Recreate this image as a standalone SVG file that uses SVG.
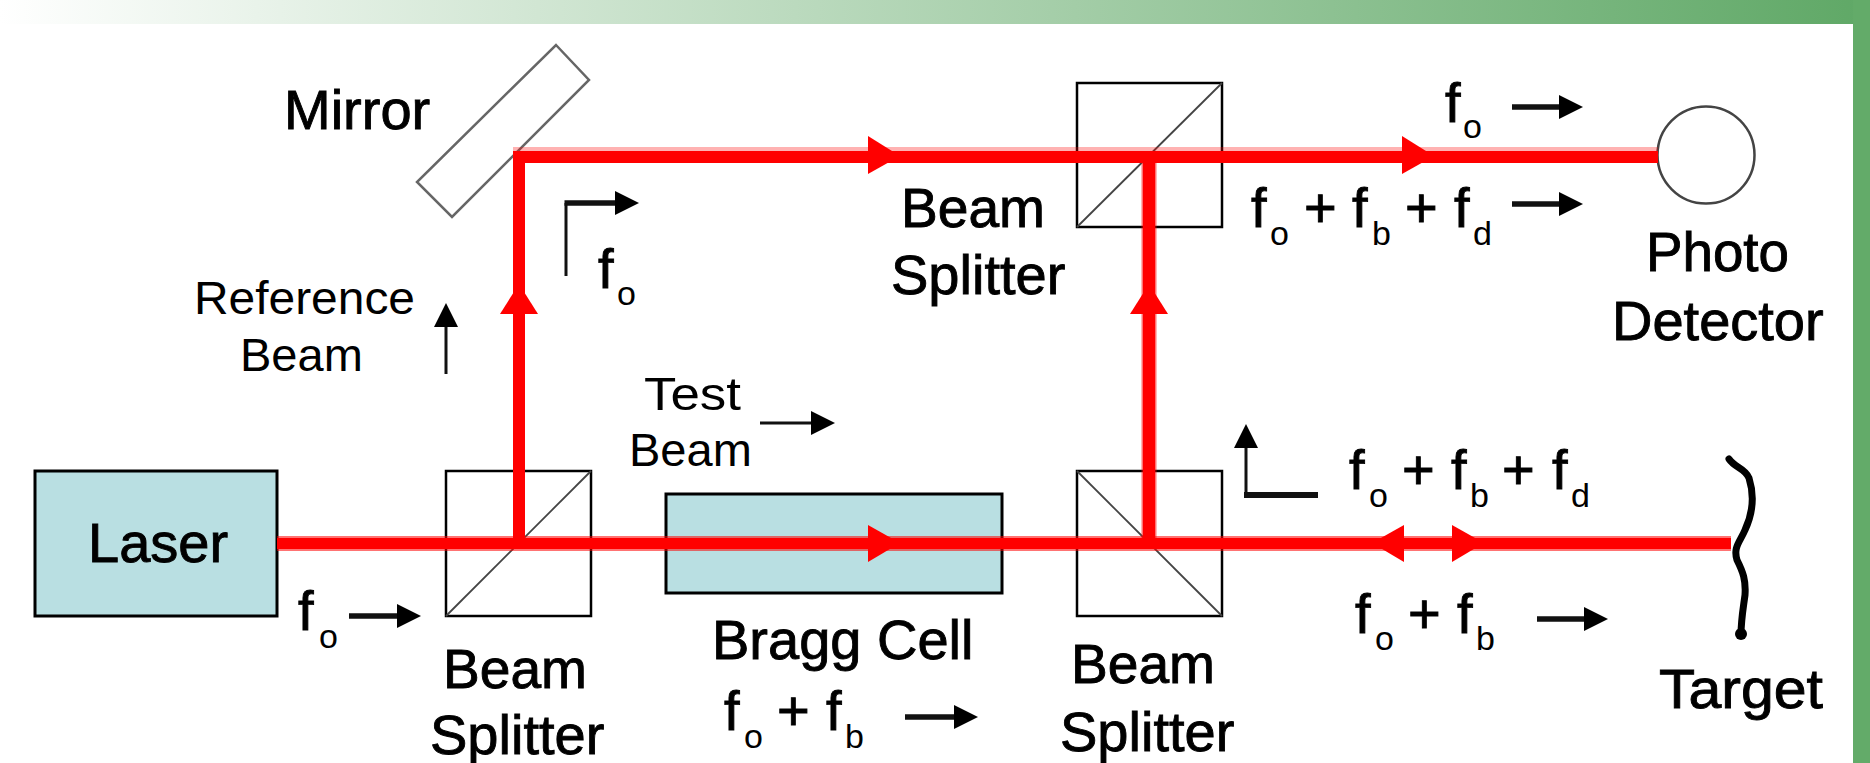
<svg xmlns="http://www.w3.org/2000/svg" width="1870" height="763" viewBox="0 0 1870 763">
<style>
text{font-family:"Liberation Sans",Arial,sans-serif;fill:#000}
.l{font-size:56px;stroke:#000;stroke-width:.9}
.m{font-size:47px}
.s{font-size:34px;stroke:none}
.box{fill:#b9dfe2;stroke:#000;stroke-width:3}
.bs{fill:none;stroke:#000;stroke-width:2.500}
.dg{stroke:#444;stroke-width:1.800;fill:none}
.hal{stroke:#f00;stroke-opacity:.55;stroke-width:15;fill:none}
.core{stroke:#f00;stroke-width:11;fill:none}
.rh{fill:#f00}
.a{stroke:#111;stroke-width:5.500;fill:none;marker-end:url(#ah)}
.at{stroke:#111;stroke-width:3;fill:none;marker-end:url(#ah)}
.v{stroke:#111;stroke-width:3;fill:none}
</style>
<defs>
<linearGradient id="hdr" x1="0" x2="1" y1="0" y2="0"><stop offset="0" stop-color="#fff"/><stop offset="1" stop-color="#5fa866"/></linearGradient>
<marker id="ah" markerUnits="userSpaceOnUse" markerWidth="26" markerHeight="26" refX="1" refY="13" orient="auto"><path d="M0 1L24 13L0 25Z" fill="#000"/></marker>
</defs>
<rect width="1870" height="763" fill="#fff"/>
<g id="frame"><rect width="1870" height="24" fill="url(#hdr)"/><rect x="1853" width="17" height="763" fill="#63ab69"/></g>
<g id="laser"><rect class="box" x="35" y="471" width="242" height="145"/><text class="l" x="88" y="562">Laser</text></g>
<g id="bragg-cell"><rect class="box" x="666" y="494" width="336" height="99"/><text class="l" x="712" y="659">Bragg Cell</text></g>
<g id="mirror"><path d="M556 45L589 80L452 217L417 182Z" fill="#fff" stroke="#666" stroke-width="2.500"/><text class="l" x="284" y="129">Mirror</text></g>
<g id="splitter-left"><rect class="bs" x="446" y="471" width="145" height="145"/><path class="dg" d="M591 471L446 616"/><text class="l" x="443" y="688" textLength="144" lengthAdjust="spacingAndGlyphs">Beam</text><text class="l" x="430" y="754">Splitter</text></g>
<g id="splitter-right"><rect class="bs" x="1077" y="471" width="145" height="145"/><path class="dg" d="M1077 471L1222 616"/><text class="l" x="1071" y="683" textLength="144" lengthAdjust="spacingAndGlyphs">Beam</text><text class="l" x="1060" y="751">Splitter</text></g>
<g id="splitter-top"><rect class="bs" x="1077" y="83" width="145" height="144"/><path class="dg" d="M1222 83L1077 227"/><text class="l" x="901" y="227" textLength="144" lengthAdjust="spacingAndGlyphs">Beam</text><text class="l" x="891" y="294">Splitter</text></g>
<g id="detector"><circle cx="1706" cy="155" r="48.500" fill="#fff" stroke="#444" stroke-width="2.500"/><text class="l" x="1646" y="271" textLength="143" lengthAdjust="spacingAndGlyphs">Photo</text><text class="l" x="1612" y="340">Detector</text></g>
<g id="target"><path d="M1729 459C1735 468 1745 468 1749 478C1755 497 1752 515 1745 530C1740 542 1733 547 1737 560C1743 572 1746 580 1745 595C1743 610 1741 620 1741 635" fill="none" stroke="#000" stroke-width="7" stroke-linecap="round"/><circle cx="1741" cy="634" r="6"/><text class="l" x="1659" y="708" textLength="164" lengthAdjust="spacingAndGlyphs">Target</text></g>
<g id="connectors">
<path class="hal" d="M277 543.500H1731"/><path class="core" d="M277 543.500H1731"/>
<path d="M513 152H1658" stroke="#f00" stroke-opacity=".3" stroke-width="10" fill="none"/>
<path d="M519 543V157H1658" stroke="#f00" stroke-width="12" fill="none"/>
<path d="M1149 543V157" stroke="#f00" stroke-opacity=".55" stroke-width="15" fill="none"/><path d="M1149 543V157" stroke="#f00" stroke-width="12" fill="none"/>
<path class="rh" d="M868 136L900 156L868 174Z"/><path class="rh" d="M1402 136L1434 156L1402 174Z"/>
<path class="rh" d="M519 284L538 314H500Z"/><path class="rh" d="M1149 284L1168 314H1130Z"/>
<path class="rh" d="M868 525L900 543L868 562Z"/><path class="rh" d="M1404 525L1372 543L1404 562Z"/><path class="rh" d="M1452 525L1484 543L1452 562Z"/>
<path class="v" d="M566 276V203"/><path class="a" d="M564.500 203H616"/>
<path class="at" d="M446 374V326"/>
<path class="at" d="M760 423H812"/>
<path class="a" d="M349 616H398"/>
<path class="a" d="M905 717H955"/>
<path class="a" d="M1512 107H1560"/>
<path class="a" d="M1512 204H1560"/>
<path class="at" d="M1246 497V447"/><path class="v" d="M1318 495H1244" style="stroke-width:6"/>
<path class="a" d="M1537 619H1585"/>
</g>
<g id="labels">
<text class="m" x="194" y="314" textLength="221" lengthAdjust="spacingAndGlyphs">Reference</text><text class="m" x="240" y="371">Beam</text>
<text class="m" x="644" y="410" textLength="97" lengthAdjust="spacingAndGlyphs">Test</text><text class="m" x="629" y="466">Beam</text>
<text class="l" x="1445" y="122">f<tspan class="s" x="1463" y="138">o</tspan></text>
<text class="l" x="598" y="288">f<tspan class="s" x="617" y="305">o</tspan></text>
<text class="l" x="298" y="630">f<tspan class="s" x="319" y="648">o</tspan></text>
<text class="l" x="1251" y="227">f<tspan class="s" x="1270" y="245">o</tspan><tspan x="1304" y="227">+</tspan><tspan x="1352" y="227">f</tspan><tspan class="s" x="1372" y="245">b</tspan><tspan x="1405" y="227">+</tspan><tspan x="1454" y="227">f</tspan><tspan class="s" x="1473" y="245">d</tspan></text>
<text class="l" x="724" y="730">f<tspan class="s" x="744" y="748">o</tspan><tspan x="777" y="730">+</tspan><tspan x="826" y="730">f</tspan><tspan class="s" x="845" y="748">b</tspan></text>
<text class="l" x="1349" y="489">f<tspan class="s" x="1369" y="507">o</tspan><tspan x="1402" y="489">+</tspan><tspan x="1451" y="489">f</tspan><tspan class="s" x="1470" y="507">b</tspan><tspan x="1502" y="489">+</tspan><tspan x="1552" y="489">f</tspan><tspan class="s" x="1571" y="507">d</tspan></text>
<text class="l" x="1355" y="633">f<tspan class="s" x="1375" y="650">o</tspan><tspan x="1408" y="633">+</tspan><tspan x="1457" y="633">f</tspan><tspan class="s" x="1476" y="650">b</tspan></text>
</g>
</svg>
